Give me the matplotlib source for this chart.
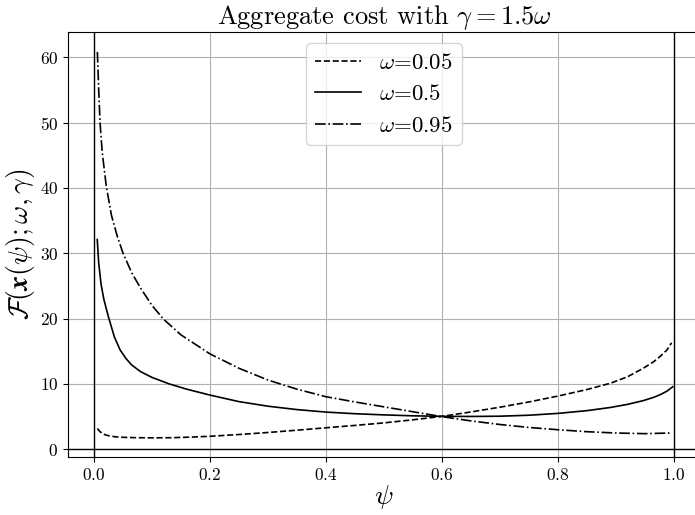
import matplotlib
matplotlib.use("Agg")
import matplotlib.pyplot as plt
from matplotlib.ticker import FuncFormatter

plt.rcParams.update({
    "font.family": "serif",
    "font.serif": ["cmr10", "DejaVu Serif"],
    "mathtext.fontset": "cm",
    "axes.unicode_minus": False,
    "axes.formatter.use_mathtext": True,
})

# omega = 0.05 (dashed)
psi_a = [0.0057, 0.010, 0.0155, 0.025, 0.0356, 0.05, 0.075, 0.10, 0.133, 0.17, 0.2, 0.25,
         0.3, 0.35, 0.4, 0.45, 0.5, 0.55, 0.6, 0.65, 0.7, 0.75, 0.8, 0.85, 0.89, 0.92,
         0.947, 0.965, 0.976, 0.988, 0.996]
f_a = [3.2, 2.72, 2.34, 2.08, 1.93, 1.84, 1.78, 1.76, 1.78, 1.88, 2.0, 2.27,
       2.58, 2.93, 3.3, 3.66, 4.05, 4.52, 5.05, 5.72, 6.45, 7.25, 8.15, 9.15, 10.1, 11.1,
       12.4, 13.4, 14.2, 15.2, 16.3]

# omega = 0.5 (solid)
psi_b = [0.0055, 0.008, 0.012, 0.017, 0.025, 0.035, 0.045, 0.055, 0.065, 0.08, 0.10,
         0.13, 0.16, 0.2, 0.25, 0.3, 0.35, 0.4, 0.45, 0.5, 0.55, 0.6, 0.65, 0.7, 0.75,
         0.8, 0.85, 0.89, 0.92, 0.947, 0.965, 0.976, 0.988, 0.998]
f_b = [32.1, 28.5, 25.3, 22.9, 20.2, 17.2, 15.2, 13.9, 12.9, 11.9, 11.0,
       10.0, 9.2, 8.3, 7.3, 6.6, 6.08, 5.7, 5.45, 5.27, 5.13, 5.05, 5.03, 5.07, 5.22,
       5.5, 5.92, 6.4, 6.88, 7.45, 7.95, 8.35, 8.9, 9.58]

# omega = 0.95 (dash-dot)
psi_c = [0.0057, 0.008, 0.0103, 0.014, 0.021, 0.03, 0.04, 0.05, 0.065, 0.08, 0.10,
         0.12, 0.15, 0.2, 0.25, 0.3, 0.35, 0.4, 0.45, 0.5, 0.55, 0.6, 0.65, 0.7, 0.75,
         0.8, 0.85, 0.9, 0.95, 0.993]
f_c = [60.8, 55.0, 50.0, 45.5, 40.3, 35.8, 32.6, 30.0, 27.0, 24.7, 22.0,
       19.9, 17.5, 14.6, 12.4, 10.6, 9.2, 8.05, 7.25, 6.5, 5.75, 5.0, 4.35, 3.8, 3.35,
       3.0, 2.7, 2.5, 2.4, 2.5]

labels = [r"$\omega$=0.05", r"$\omega$=0.5", r"$\omega$=0.95"]
styles = ["--", "-", "-."]

fig = plt.figure(figsize=(6.95, 5.15), dpi=100)
ax = fig.add_axes([0.0978, 0.112, 0.9094, 0.826])

for x, y, lab, ls in zip([psi_a, psi_b, psi_c], [f_a, f_b, f_c], labels, styles):
    ax.plot(x, y, ls, color="black", lw=1.2, label=lab)

ax.axhline(0, color="black", lw=1.0)
ax.axvline(0, color="black", lw=1.0)
ax.axvline(1, color="black", lw=1.0)

ax.set_xlim(-0.045, 1.045)
ax.set_ylim(-1.22, 63.86)
ax.set_xticks([0.0, 0.2, 0.4, 0.6, 0.8, 1.0])
ax.set_yticks([0, 10, 20, 30, 40, 50, 60])
ax.xaxis.set_major_formatter(FuncFormatter(lambda v, p: f"${v:.1f}$"))
ax.yaxis.set_major_formatter(FuncFormatter(lambda v, p: f"${v:.0f}$"))
ax.tick_params(labelsize=12.5)
ax.grid(True)

ax.set_title(r"Aggregate cost with $\gamma = 1.5\omega$", fontsize=19, pad=3)
ax.set_xlabel(r"$\psi$", fontsize=20, labelpad=0)
ax.set_ylabel(r"$\mathcal{F}(\mathbfit{x}(\psi);\omega,\gamma)$", fontsize=20, labelpad=2)
ax.legend(loc="upper center", fontsize=16.5)

fig.savefig("out.png", dpi=100)
